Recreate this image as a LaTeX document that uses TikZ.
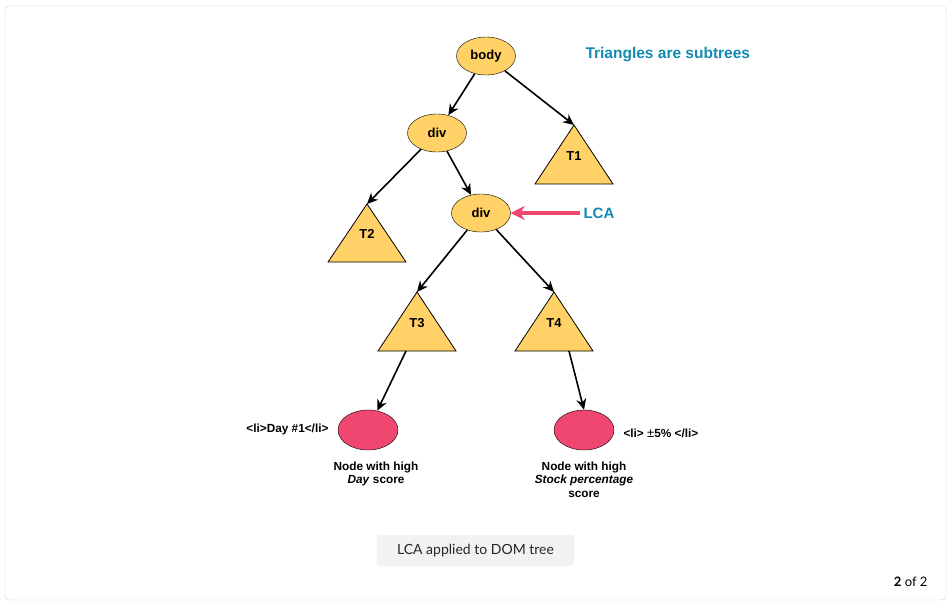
\documentclass[tikz,border=0pt]{standalone}
\usepackage{fontspec}
\setmainfont{Liberation Sans}
\newfontfamily\capfont{Lato}
\usetikzlibrary{shapes.geometric,arrows.meta}
\definecolor{treeorange}{HTML}{FFD166}
\definecolor{hotred}{HTML}{EF476F}
\definecolor{noteblue}{HTML}{118AB2}
\tikzset{
  tag/.style={ellipse,draw,fill=treeorange,minimum width=59pt,minimum height=38pt,inner sep=0pt,
    font=\fontsize{13}{15}\selectfont\bfseries},
  hit/.style={ellipse,draw,fill=hotred,minimum width=60pt,minimum height=40pt,inner sep=0pt},
  sub/.style={draw,fill=treeorange,line width=0.8pt},
  arr/.style={-{Stealth[length=11pt,width=10pt]},line width=1.6pt},
  small/.style={font=\fontsize{11.8}{13.5}\selectfont\bfseries}
}
\begin{document}
\begin{tikzpicture}[x=1pt,y=-1pt] %Arbol DOM con LCA
            \useasboundingbox (0,0) rectangle (952,606);
            \draw[rounded corners=4pt,black!18] (5,6) rectangle (946,600);

            \node[tag] (body) at (486,56) {body};
            \node[tag] (div1) at (437,133) {div};
            \node[tag] (div2) at (481,213) {div};

            % subarboles
            \coordinate (T1) at (574,125);
            \coordinate (T2) at (367,204);
            \coordinate (T3) at (417,292);
            \coordinate (T4) at (554,292);
            \draw[sub] (T1) -- (535,184) -- (613,184) -- cycle;
            \draw[sub] (T2) -- (328,262) -- (406,262) -- cycle;
            \draw[sub] (T3) -- (378,351) -- (456,351) -- cycle;
            \draw[sub] (T4) -- (515,351) -- (593,351) -- cycle;
            \node[font=\fontsize{13}{15}\selectfont\bfseries] (t1) at (574,156) {T1};
            \node[font=\fontsize{13}{15}\selectfont\bfseries] (t2) at (367,234) {T2};
            \node[font=\fontsize{13}{15}\selectfont\bfseries] (t3) at (417,323) {T3};
            \node[font=\fontsize{13}{15}\selectfont\bfseries] (t4) at (554,323) {T4};
            \coordinate (T3b) at (406,351);
            \coordinate (T4b) at (569,351);

            \node[hit] (li1) at (368,430) {};
            \node[hit] (li2) at (584,430) {};

            \draw[arr] (body) -- (div1);
            \draw[arr] (body) -- (T1);
            \draw[arr] (div1) -- (T2);
            \draw[arr] (div1) -- (div2);
            \draw[arr] (div2) -- (T3);
            \draw[arr] (div2) -- (T4);
            \draw[arr] (T3b) -- (li1);
            \draw[arr] (T4b) -- (li2.north);

            \node[anchor=west,text=noteblue,font=\fontsize{15.5}{18}\selectfont\bfseries] (note) at (582,55) {Triangles are subtrees};
            \node[anchor=west,text=noteblue,font=\fontsize{15}{18}\selectfont\bfseries] (lca) at (580,213) {LCA};
            \draw[-{Stealth[length=14pt,width=14pt]},line width=3.2pt,hotred] (lca.west) -- (div2.east);

            \node[small,anchor=east] (lab1) at (332,429) {<li>Day \#1</li>};
            \node[small,anchor=west] (lab2) at (620,433) {<li> {\mdseries\fontsize{13}{13}\selectfont ±}5\% </li>};
            \node[small,align=center,anchor=north] (cap1) at (376,458) {Node with high\\\textit{Day} score};
            \node[small,align=center,anchor=north] (cap2) at (584,458) {Node with high\\\textit{Stock percentage}\\score};

            \filldraw[fill=black!5,draw=none,rounded corners=3pt] (377,535) rectangle (574,566);
            \node[text=black!85,font=\capfont\fontsize{14}{16}\selectfont] (title) at (475.5,550.5) {LCA applied to DOM tree};
            \node[anchor=east,font=\capfont\fontsize{13}{15}\selectfont] (page) at (931,582) {\textbf{2} of 2};
        \end{tikzpicture}
\end{document}
